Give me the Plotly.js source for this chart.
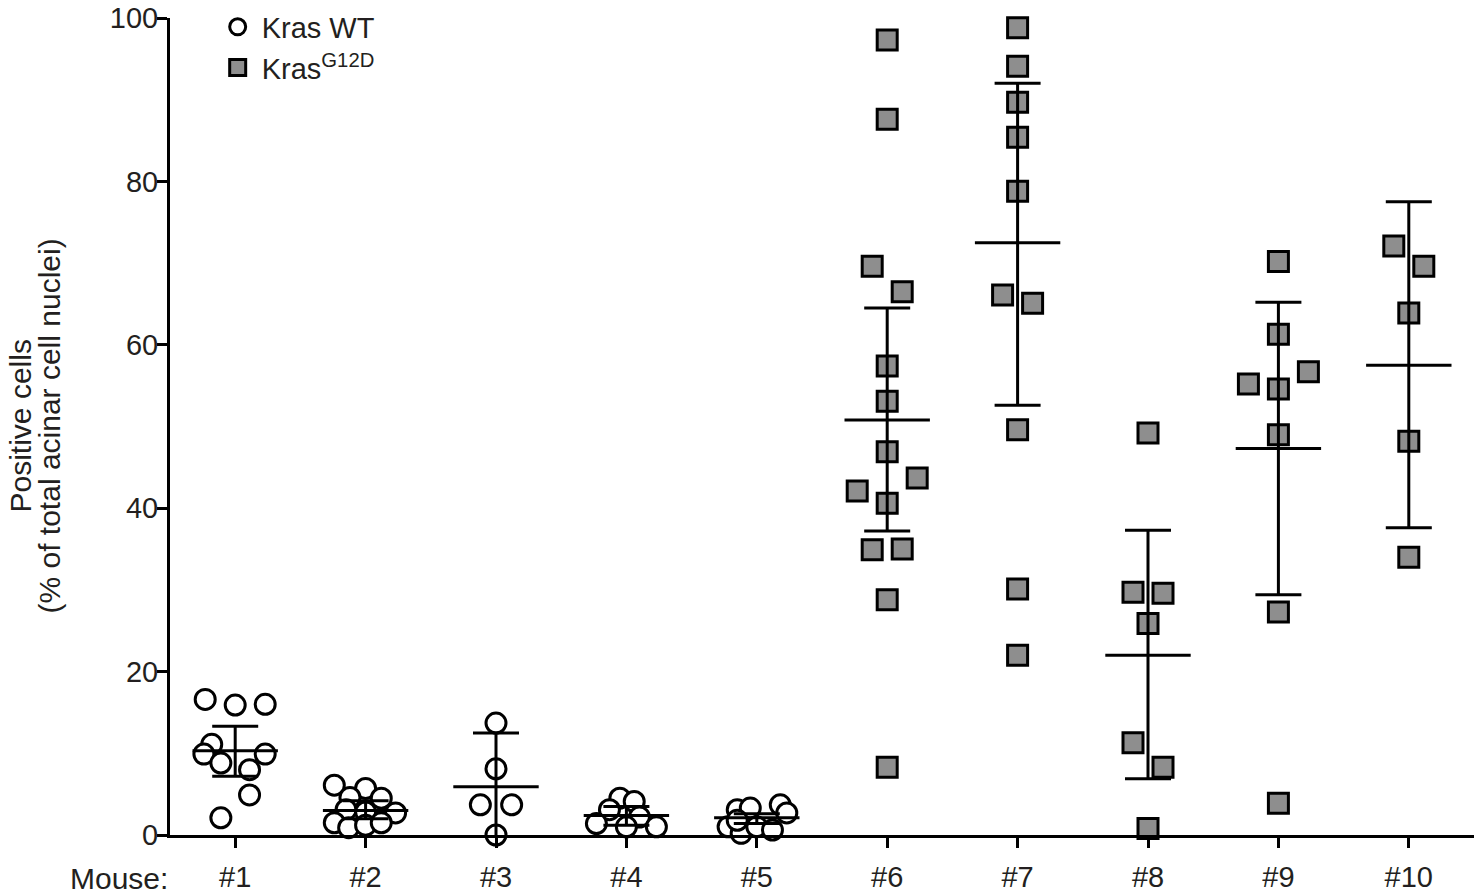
<!DOCTYPE html>
<html>
<head>
<meta charset="utf-8">
<script src="https://cdn.plot.ly/plotly-3.0.1.min.js"></script>
<style>html,body{margin:0;padding:0;background:#fff;}#chart{width:1476px;height:896px;}</style>
</head>
<body>
<div id="chart"></div>
<script>
// Category labels
const mice = ['#1','#2','#3','#4','#5','#6','#7','#8','#9','#10'];

// Individual values per mouse (% positive cells) and horizontal jitter (category units)
const m1 = [16.6, 15.9, 16.0, 11.1, 9.9, 9.9, 8.8, 8.0, 4.9, 2.1];
const j1 = [-0.23, 0, 0.23, -0.18, -0.24, 0.23, -0.11, 0.11, 0.11, -0.11];
const m2 = [6.1, 5.7, 4.5, 4.6, 3.1, 2.7, 2.8, 1.5, 0.9, 1.2, 1.5];
const j2 = [-0.24, 0, 0.12, -0.12, -0.15, 0.23, 0, -0.24, -0.13, 0, 0.12];
const m3 = [13.7, 8.1, 3.7, 3.7, 0.0];
const j3 = [0, 0, -0.12, 0.12, 0];
const m4 = [4.5, 4.1, 3.1, 2.2, 1.4, 1.0, 1.0];
const j4 = [-0.05, 0.06, -0.13, 0.1, -0.23, 0, 0.23];
const m5 = [3.1, 3.3, 3.7, 2.7, 1.0, 0.2, 1.0, 0.6, 1.8];
const j5 = [-0.15, -0.05, 0.18, 0.23, -0.22, -0.12, 0, 0.12, -0.15];
const m6 = [97.3, 87.6, 69.6, 66.5, 57.4, 53.1, 46.9, 43.7, 42.1, 40.6, 34.9, 35.0, 28.8, 8.3];
const j6 = [0, 0, -0.115, 0.115, 0, 0, 0, 0.23, -0.23, 0, -0.115, 0.115, 0, 0];
const m7 = [98.8, 94.1, 89.7, 85.4, 78.8, 66.1, 65.1, 49.6, 30.1, 22.0];
const j7 = [0, 0, 0, 0, 0, -0.115, 0.115, 0, 0, 0];
const m8 = [49.2, 29.7, 29.6, 25.9, 11.3, 8.3, 0.8];
const j8 = [0, -0.115, 0.115, 0, -0.115, 0.115, 0];
const m9 = [70.2, 61.3, 56.7, 55.2, 54.6, 49.0, 27.3, 3.9];
const j9 = [0, 0, 0.23, -0.23, 0, 0, 0, 0];
const m10 = [72.1, 69.6, 63.9, 48.2, 34.0];
const j10 = [-0.115, 0.115, 0, 0, 0];

// Summary lines (central line and interval ends)
const centre = [10.3, 3.0, 5.9, 2.4, 2.1, 50.8, 72.5, 22.0, 47.3, 57.5];
const upper  = [13.3, 4.2, 12.5, 3.5, 2.6, 64.5, 92.0, 37.3, 65.2, 77.5];
const lower  = [7.2, 2.0, -0.7, 1.2, 1.4, 37.2, 52.6, 6.9, 29.4, 37.6];

const wtVals = [m1, m2, m3, m4, m5];
const wtJit  = [j1, j2, j3, j4, j5];
const mutVals = [m6, m7, m8, m9, m10];
const mutJit  = [j6, j7, j8, j9, j10];

function build(vals, jits, startIdx) {
  const x = [], y = [];
  vals.forEach((arr, g) => {
    arr.forEach((v, k) => { x.push(startIdx + g + jits[g][k]); y.push(v); });
  });
  return {x, y};
}
const wt = build(wtVals, wtJit, 1);
const mut = build(mutVals, mutJit, 6);
const catPos = mice.map((_, i) => i + 1);

const FONT = '"Liberation Sans", Arial, Helvetica, sans-serif';
const TXT = '#231f20';

const traces = [
  {
    type: 'scatter', mode: 'markers', name: 'Kras WT', legendgroup: 'a',
    x: wt.x, y: wt.y, cliponaxis: false,
    marker: {symbol: 'circle', size: 20, color: '#ffffff', line: {color: '#000', width: 3}}
  },
  {
    type: 'scatter', mode: 'markers', name: 'Kras<sup>G12D</sup>', legendgroup: 'b',
    x: mut.x, y: mut.y, cliponaxis: false,
    marker: {symbol: 'square', size: 20, color: '#8e8e8e', line: {color: '#000', width: 3}}
  },
  {
    type: 'scatter', mode: 'markers', showlegend: false, hoverinfo: 'skip',
    x: catPos, y: centre,
    marker: {symbol: 'line-ew', size: 61, color: '#000', line: {color: '#000', width: 3}},
    error_y: {
      type: 'data', symmetric: false,
      array: upper.map((u, i) => u - centre[i]),
      arrayminus: lower.map((l, i) => centre[i] - l),
      width: 23, thickness: 3, color: '#000'
    }
  }
];

const layout = {
  width: 1476, height: 896,
  margin: {l: 170, r: 2, t: 17, b: 61},
  paper_bgcolor: '#fff', plot_bgcolor: '#fff',
  font: {family: FONT, color: TXT, size: 28},
  showlegend: true,
  legend: {
    x: 0.0335, y: 1.019, xanchor: 'left', yanchor: 'top',
    font: {family: FONT, size: 29, color: TXT},
    tracegroupgap: 0, bgcolor: 'rgba(0,0,0,0)', itemsizing: 'trace', itemwidth: 38
  },
  xaxis: {
    range: [0.5, 10.5], tickmode: 'array', tickvals: catPos, ticktext: mice,
    showgrid: false, zeroline: false, showline: true, linecolor: '#000', linewidth: 3,
    ticks: 'outside', ticklen: 10, tickwidth: 3, tickcolor: '#000',
    ticklabelstandoff: 4,
    tickfont: {family: FONT, size: 29, color: TXT}, fixedrange: true
  },
  yaxis: {
    range: [0, 100], tickmode: 'array', tickvals: [0, 20, 40, 60, 80, 100],
    showgrid: false, zeroline: false, showline: true, linecolor: '#000', linewidth: 3,
    ticks: 'outside', ticklen: 10, tickwidth: 3, tickcolor: '#000',
    ticklabelstandoff: -7,
    tickfont: {family: FONT, size: 29, color: TXT}, fixedrange: true
  },
  annotations: [
    {xref: 'paper', yref: 'paper', x: 0, y: 0, xanchor: 'right', yanchor: 'middle',
     xshift: 0, yshift: -43, text: 'Mouse:', showarrow: false,
     font: {family: FONT, size: 30, color: TXT}},
    {xref: 'paper', yref: 'paper', x: (20 - 170) / 1304, y: 0.5, xanchor: 'center', yanchor: 'middle',
     text: 'Positive cells', textangle: -90, showarrow: false,
     font: {family: FONT, size: 30, color: TXT}},
    {xref: 'paper', yref: 'paper', x: (49 - 170) / 1304, y: 0.5, xanchor: 'center', yanchor: 'middle',
     text: '(% of total acinar cell nuclei)', textangle: -90, showarrow: false,
     font: {family: FONT, size: 30, color: TXT}}
  ]
};

Plotly.newPlot('chart', traces, layout, {displayModeBar: false, staticPlot: true});
</script>
</body>
</html>
